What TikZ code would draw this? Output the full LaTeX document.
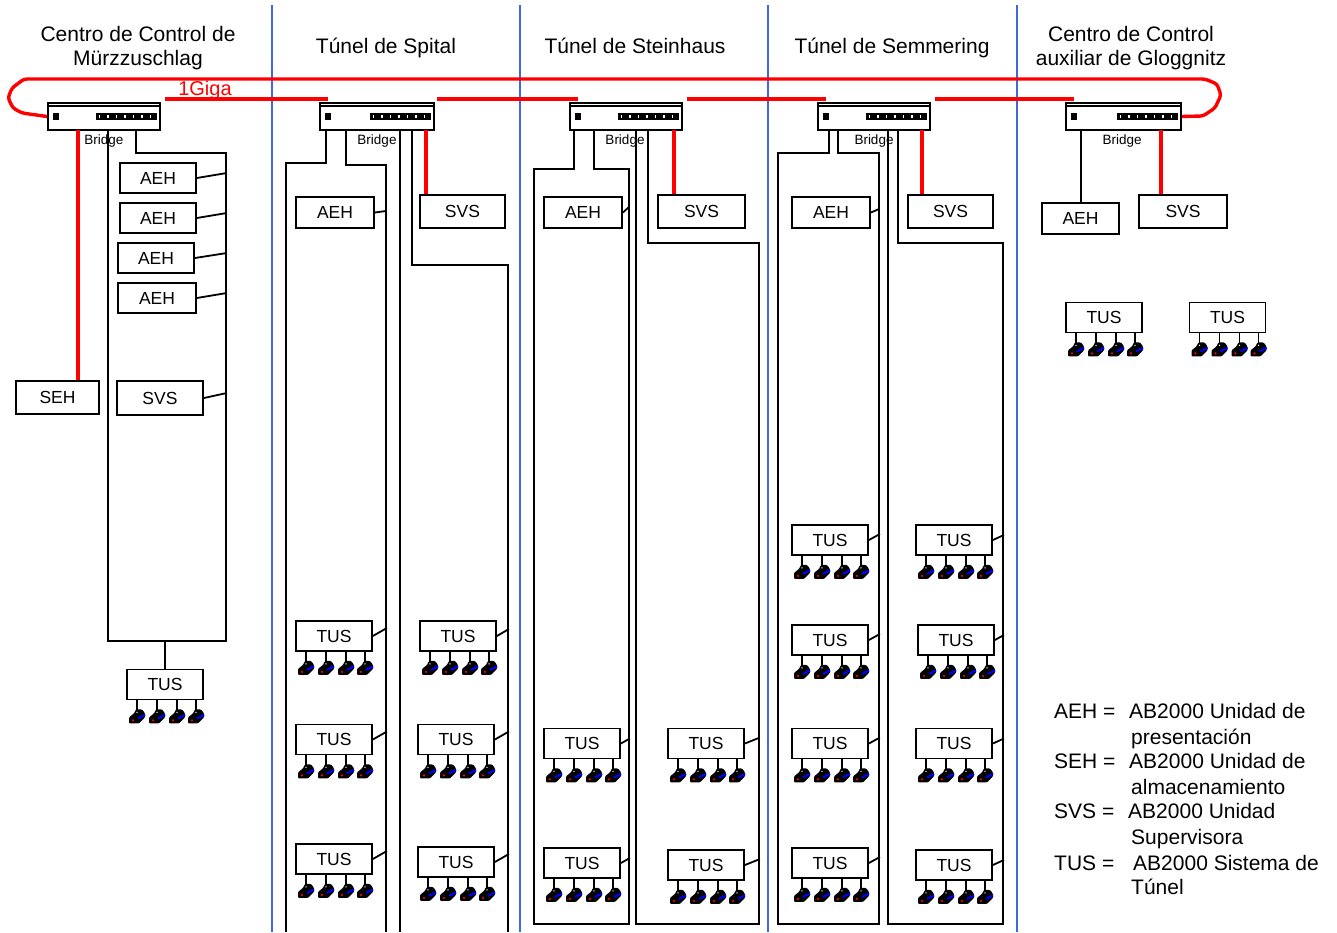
\documentclass[tikz,border=0pt]{standalone}
\usepackage{fontspec}
\setmainfont{Liberation Sans}
\usepackage{tikz}
\usetikzlibrary{calc}
\definecolor{divblue}{RGB}{60,105,225}
\tikzset{bus/.style={line width=1.8pt,black},
         link/.style={line width=3.4pt,red},
         divider/.style={line width=1.6pt,divblue},
         unitbox/.style={draw,line width=1.8pt,fill=white,inner sep=0pt,font=\fontsize{17.5}{18}\selectfont},
         bridgebox/.style={draw,line width=1.8pt,fill=white,inner sep=0pt,minimum height=27pt},
         title/.style={align=center,font=\fontsize{21}{24}\selectfont},
         legend/.style={anchor=base west,inner sep=0pt,font=\fontsize{21}{24}\selectfont},
         tag/.style={font=\fontsize{13.5}{15}\selectfont,inner sep=0pt},
         dev/.pic={
           \fill[rounded corners=1pt] (-8,7) -- (-8,1) -- (-3,-3) -- (-1,-7) -- (5,-7) -- (8,-3) -- (8,1) -- (2,7) -- cycle;
           \draw[blue,line width=2pt] (1,2) -- (8,-1.5);
           \fill[red] (-4,4) circle (1.2);
           \fill[white] (0,-4) circle (.7);
         }}
% unit box: name, centre x, centre y, width, height, text
\newcommand{\unitb}[6]{\node[unitbox,minimum width=#4pt,minimum height=#5pt] (#1) at (#2,#3) {#6};}
% tunnel unit with its four devices
\newcommand{\tusb}[3]{
  \node[unitbox,minimum width=76pt,minimum height=30pt] (#1) at (#2,#3) {TUS};
  \foreach \i/\dx in {1/-28,2/-8,3/12,4/31}{
    \coordinate (#1-\i) at ($(#1.south)+(\dx,10)$);
    \draw[line width=1.5pt] (#1.south -| #1-\i) -- (#1-\i);
    \pic at ($(#1-\i)+(0,6)$) {dev};
  }}
% bridge: name, left x, width, x of label
\newcommand{\bridgeb}[4]{
  \node[bridgebox,minimum width=#3pt] (#1) at (#2+#3/2,116.5) {};
  \draw[line width=1.5pt] ($(#1.north west)+(0,4)$) -- ($(#1.north east)+(0,4)$);
  \fill ($(#1.west)+(6,-3.5)$) rectangle ($(#1.west)+(12,3.5)$);
  \fill ($(#1.east)+(-65,-3.5)$) rectangle ($(#1.east)+(-4,3.5)$);
  \draw[white,line width=2.5pt,dash pattern=on 1.5pt off 7pt] ($(#1.east)+(-62,0)$) -- ($(#1.east)+(-6,0)$);
  \node[tag] (#1-tag) at (#4,141) {Bridge};
}

\begin{document}
\begin{tikzpicture}[x=1pt,y=-1pt]
  \useasboundingbox[fill=white] (0,0) rectangle (1337,932);
  % dividers
  \foreach \x in {272,520,768,1017}
    \draw[divider] (\x,5) -- (\x,932);
  % titles
  \node[title] (tmurz) at (138,48) {Centro de Control de\\Mürzzuschlag};
  \node[title,anchor=base] (tspit) at (386,53) {Túnel de Spital};
  \node[title,anchor=base] (tstein) at (635,53) {Túnel de Steinhaus};
  \node[title,anchor=base] (tsemm) at (892,53) {Túnel de Semmering};
  \node[title] (tglog) at (1131,48) {Centro de Control\\auxiliar de Gloggnitz};
  % buses
  \draw[bus] (108,130) -- (108,641) -- (226,641) -- (226,153) -- (136,153) -- (136,130);
  \draw[bus] (326,130) |- (286,163) -- (286,932);
  \draw[bus] (346,130) |- (386,165) -- (386,932);
  \draw[bus] (400,130) -- (400,932);
  \draw[bus] (412,130) |- (508,265) -- (508,932);
  \draw[bus] (574,130) |- (534,169) -- (534,924) -- (629,924) -- (629,169) -- (594,169) -- (594,130);
  \draw[bus] (636,130) -- (636,924) -- (759,924) -- (759,243) -- (648,243) -- (648,130);
  \draw[bus] (829,130) |- (778,153) -- (778,924) -- (879,924) -- (879,153) -- (838,153) -- (838,130);
  \draw[bus] (888,130) -- (888,924) -- (1003,924) -- (1003,243) -- (898,243) -- (898,130);
  % bridges
  \bridgeb{bmurz}{48}{112}{104}
  \bridgeb{bspit}{320}{114}{377}
  \bridgeb{bstein}{570}{112}{625}
  \bridgeb{bsemm}{818}{112}{874}
  \bridgeb{bglog}{1066}{115}{1122}
  % 1Giga ring
  \draw[link,rounded corners=3pt] (bmurz.west) -- (22,113) -- (13,108) -- (8,98) -- (12,88) -- (24,79) -- (1205,79) -- (1217,84) -- (1221,95) -- (1215,108) -- (1203,116) -- (bglog.east);
  \draw[link] (165,99) -- (328,99);
  \draw[link] (437,99) -- (578,99);
  \draw[link] (687,99) -- (826,99);
  \draw[link] (935,99) -- (1074,99);
  \node[red,inner sep=0pt,font=\fontsize{20}{24}\selectfont] (giga) at (205,90) {1Giga};
  % Murzzuschlag
  \unitb{aeh1}{158}{178}{76}{30}{AEH}
  \unitb{aeh2}{158}{218}{76}{30}{AEH}
  \unitb{aeh3}{156}{258}{76}{30}{AEH}
  \unitb{aeh4}{157}{298}{78}{30}{AEH}
  \unitb{seh1}{57.5}{397.5}{83}{33}{SEH}
  \unitb{svs1}{160}{398}{86}{34}{SVS}
  \tusb{tus1}{165}{684.5}
  \draw[bus] (tus1.north) -- (165,641);
  \foreach \n/\dx in {aeh1/30,aeh2/30,aeh3/32,aeh4/30,svs1/23}
    \draw[bus] (\n.east) -- ++(\dx,-5);
  \coordinate (rm) at (78,130);
  \draw[link] (rm) -- (rm |- seh1.north);
  % Spital
  \unitb{aeh5}{335}{212.5}{78}{31}{AEH}
  \unitb{svs2}{462.5}{211.5}{85}{33}{SVS}
  \draw[bus] (aeh5.east) -- (386,211);
  \coordinate (rs) at (426,130);
  \draw[link] (rs) -- (rs |- svs2.north);
  \tusb{tus2}{334}{636}
  \tusb{tus3}{334}{739.5}
  \tusb{tus4}{334}{859}
  \tusb{tus5}{458}{636}
  \tusb{tus6}{456}{739.5}
  \tusb{tus7}{456}{862}
  \foreach \n in {tus2,tus3,tus4,tus6,tus7}
    \draw[bus] (\n.east) -- ++(14,-8);
  \draw[bus] (tus5.east) -- ++(12,-7);
  % Steinhaus
  \unitb{aeh6}{583}{212.5}{78}{31}{AEH}
  \unitb{svs3}{701.5}{211.5}{87}{33}{SVS}
  \draw[bus] (aeh6.east) -- (629,207);
  \coordinate (rh) at (674,130);
  \draw[link] (rh) -- (rh |- svs3.north);
  \tusb{tus8}{582}{743.5}
  \tusb{tus9}{582}{863}
  \tusb{tus10}{706}{743.5}
  \tusb{tus11}{706}{865}
  \foreach \n in {tus8,tus9}
    \draw[bus] (\n.east) -- ++(9,-5);
  \foreach \n in {tus10,tus11}
    \draw[bus] (\n.east) -- ++(15,-6);
  % Semmering
  \unitb{aeh7}{831}{212.5}{78}{31}{AEH}
  \unitb{svs4}{950.5}{211.5}{85}{33}{SVS}
  \draw[bus] (aeh7.east) -- (879,209);
  \coordinate (rr) at (922,130);
  \draw[link] (rr) -- (rr |- svs4.north);
  \tusb{tus12}{830}{540}
  \tusb{tus13}{830}{640}
  \tusb{tus14}{830}{743.5}
  \tusb{tus15}{830}{863}
  \tusb{tus16}{954}{540}
  \tusb{tus17}{956}{640}
  \tusb{tus18}{954}{743.5}
  \tusb{tus19}{954}{865}
  \foreach \n in {tus12,tus13,tus14,tus15}
    \draw[bus] (\n.east) -- ++(11,-6);
  \foreach \n/\dx in {tus16/11,tus17/9,tus18/11,tus19/11}
    \draw[bus] (\n.east) -- ++(\dx,-5);
  % Gloggnitz
  \unitb{aeh8}{1080.5}{218.5}{77}{31}{AEH}
  \unitb{svs5}{1183}{211.5}{88}{33}{SVS}
  \coordinate (gk) at (1081,130);
  \coordinate (rg) at (1161,130);
  \draw[bus] (gk) -- (gk |- aeh8.north);
  \draw[link] (rg) -- (rg |- svs5.north);
  \tusb{tus20}{1104}{317.5}
  \tusb{tus21}{1227.5}{317.5}
  % legend
  \foreach \x/\y/\t in {1054/718/AEH =,1129/718/AB2000 Unidad de,1131/744/presentación,
      1054/768/SEH =,1129/768/AB2000 Unidad de,1131/794/almacenamiento,
      1054/818/SVS =,1128/818/AB2000 Unidad,1131/844/Supervisora,
      1054/870/TUS =,1133/870/AB2000 Sistema de,1131/894/Túnel}
    \node[legend] at (\x,\y) {\t};
\end{tikzpicture}
\end{document}
